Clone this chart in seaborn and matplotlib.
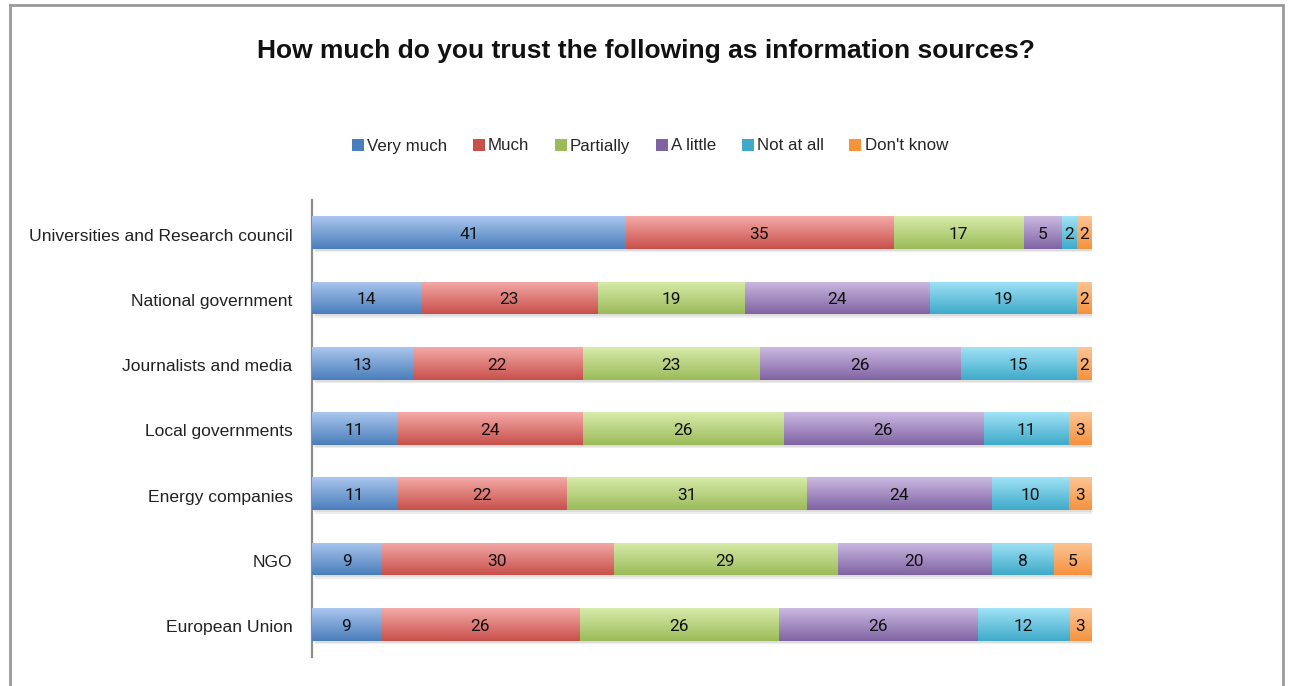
import numpy as np
import pandas as pd
import matplotlib
matplotlib.use("Agg")
import matplotlib.pyplot as plt
import matplotlib.patheffects as pe
from matplotlib.colors import to_rgb
from matplotlib.patches import Rectangle, Patch
import seaborn as sns

# Survey answers (percent of respondents) per information source
sources = ["Universities and Research council", "National government",
           "Journalists and media", "Local governments", "Energy companies",
           "NGO", "European Union"]
levels = ["Very much", "Much", "Partially", "A little", "Not at all", "Don't know"]
very_much = [41, 14, 13, 11, 11, 9, 9]
much = [35, 23, 22, 24, 22, 30, 26]
partially = [17, 19, 23, 26, 31, 29, 26]
a_little = [5, 24, 26, 26, 24, 20, 26]
not_at_all = [2, 19, 15, 11, 10, 8, 12]
dont_know = [2, 2, 2, 3, 3, 5, 3]

base_colors = ["#4A7EBB", "#C8504B", "#9BBB59", "#8064A2", "#3FAAC9", "#F5923E"]
top_colors = ["#AAC6EE", "#F3AAA7", "#D7EBAA", "#CBB9E2", "#A0E2F6", "#FCC596"]

sns.set_theme(style="white")
plt.rcParams["font.family"] = ["Liberation Sans", "DejaVu Sans"]

df = pd.DataFrame({"source": sources, "Very much": very_much, "Much": much,
                   "Partially": partially, "A little": a_little,
                   "Not at all": not_at_all, "Don't know": dont_know})
values = df[levels].to_numpy(float)
shares = values / values.sum(axis=1, keepdims=True) * 100
cum = np.cumsum(shares, axis=1)

fig = plt.figure(figsize=(12.9, 6.86), dpi=100)
ax = fig.add_axes([312 / 1290, 29 / 686, 780 / 1290, 457 / 686])

# Stacked 100% bars: draw cumulative layers from the longest to the shortest
for k in reversed(range(len(levels))):
    layer = pd.DataFrame({"source": sources, "end": cum[:, k]})
    n0 = len(ax.patches)
    sns.barplot(data=layer, x="end", y="source", orient="h", color=base_colors[k],
                saturation=1, width=0.5, linewidth=0, ax=ax)
    z = 10 + (len(levels) - 1 - k) * 2
    top = np.array(to_rgb(top_colors[k]))
    bot = np.array(to_rgb(base_colors[k]))
    t = np.linspace(0, 1, 64)[:, None]
    grad = (top * (1 - t) + bot * t)[:, None, :]
    for p in ax.patches[n0:]:
        p.set_zorder(z)
        if k == len(levels) - 1:
            p.set_path_effects([
                pe.SimplePatchShadow(offset=(2.5, -2.5), shadow_rgbFace="#888888", alpha=0.14),
                pe.SimplePatchShadow(offset=(1.5, -1.5), shadow_rgbFace="#888888", alpha=0.16),
                pe.Normal()])
        x0, y0 = p.get_x(), p.get_y()
        im = ax.imshow(grad, extent=(x0, x0 + p.get_width(), y0 + p.get_height(), y0),
                       origin="upper", aspect="auto", interpolation="bilinear", zorder=z + 1)
        im.set_clip_path(p)

# Value labels centred in each segment
for i in range(len(sources)):
    for k in range(len(levels)):
        ax.text(cum[i, k] - shares[i, k] / 2, i + 0.03, f"{int(values[i, k])}",
                ha="center", va="center", fontsize=12.5, color="#111111", zorder=40,
                family=["Roboto", "DejaVu Sans"])

ax.set_xlim(0, 100)
ax.set_ylim(len(sources) - 0.5, -0.5)
ax.set_xticks([])
ax.set_yticks(np.arange(len(sources)) + 0.03)
ax.set_yticklabels(sources)
ax.tick_params(axis="y", length=0, pad=14, labelsize=12.6, labelcolor="#222222")
ax.set_xlabel("")
ax.set_ylabel("")
for side in ["top", "right", "bottom"]:
    ax.spines[side].set_visible(False)
ax.spines["left"].set_color("#8c8c8c")
ax.spines["left"].set_linewidth(1.6)

fig.text(646 / 1290, 1 - 51 / 686, "How much do you trust the following as information sources?",
         ha="center", va="center", fontsize=19, fontweight="bold", color="#111111")

handles = [Patch(facecolor=c, edgecolor="none") for c in base_colors]
fig.legend(handles, levels, loc="center", bbox_to_anchor=(650 / 1290, 1 - 146 / 686),
           ncol=6, frameon=False, fontsize=12.2, handlelength=0.7, handleheight=0.7,
           handletextpad=0.2, columnspacing=1.5)

fig.add_artist(Rectangle((10 / 1290, -0.05), 1273 / 1290, 1 - 5 / 686 + 0.05,
                         transform=fig.transFigure, fill=False, edgecolor="#9a9a9a", lw=2))

fig.savefig("out.png", dpi=100)
